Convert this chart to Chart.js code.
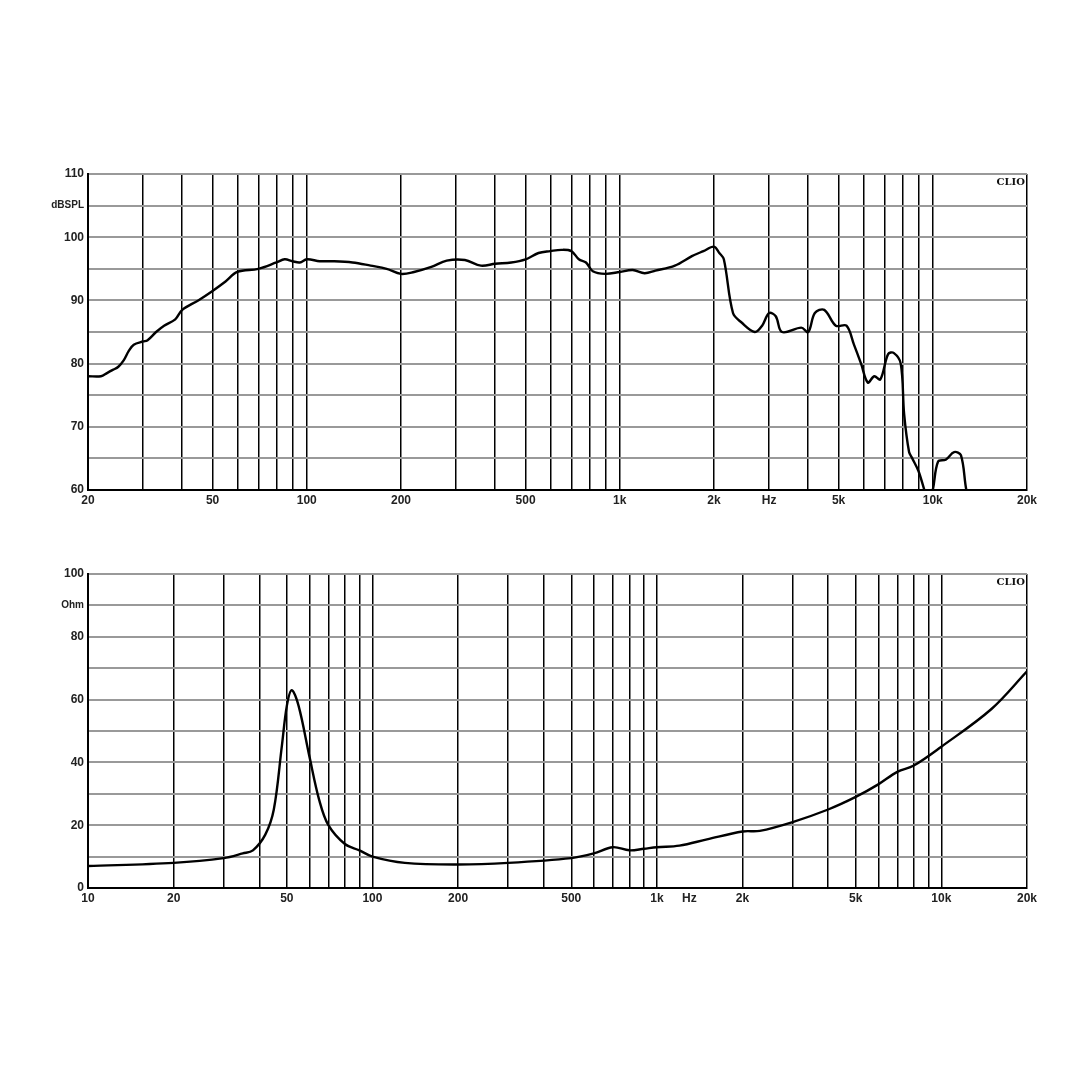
<!DOCTYPE html>
<html>
<head>
<script src="https://cdn.jsdelivr.net/npm/chart.js@4"></script>
<style>
body { margin: 0; background: #fff; width: 1080px; height: 1080px; position: relative; overflow: hidden; }
.box { position: absolute; left: 0; width: 1080px; }
</style>
</head>
<body>
<div class="box" style="top:150px;height:370px"><canvas id="spl"></canvas></div>
<div class="box" style="top:550px;height:368px"><canvas id="imp"></canvas></div>
<script>
// SPL response
const splFreq = [20,22,23,24,25,26,27,28,30,31,33,35,38,40,45,50,55,60,70,80,85,90,95,100,110,120,140,160,180,200,220,250,280,320,360,400,450,500,550,600,650,700,740,780,820,900,1000,1100,1200,1300,1500,1700,1850,2000,2080,2150,2300,2450,2700,2850,3000,3150,3300,3800,4000,4200,4500,4900,5300,5600,5900,6200,6500,6800,7200,7500,7900,8100,8400,8600,9000,9400,9700,10000,10400,11000,11700,12300,12800,13300];
const splDb   = [78,78,78.5,79,79.5,80.5,82,83,83.5,83.7,85,86,87,88.5,90,91.5,93,94.5,95,96,96.5,96.2,96,96.5,96.2,96.2,96,95.5,95,94.2,94.5,95.3,96.3,96.4,95.5,95.8,96,96.5,97.5,97.8,98,97.8,96.5,96,94.6,94.2,94.5,94.8,94.3,94.7,95.5,97,97.8,98.5,97.5,96.5,88,86.5,85,86,88,87.5,85,85.7,85,88,88.5,86,86,83,80,77,78,77.5,81.5,81.7,80,72,66,65,63,60,58,60,64.5,64.8,66,65.5,60,57];
// Impedance
const impFreq = [10,20,30,35,38,42,45,48,50,52,55,60,65,70,80,90,100,130,200,300,500,600,700,800,900,1000,1200,1500,2000,2300,3000,4000,5000,6000,7000,8000,10000,15000,20000];
const impOhm  = [7,8,9.5,11,12,17,25,45,58,63,58,42,28,20,14,12,10,8,7.5,8,9.5,11,13,12,12.5,13,13.5,15.5,18,18.2,21,25,29,33,37,39,45,57,69];

const splGrid = [20,30,40,50,60,70,80,90,100,200,300,400,500,600,700,800,900,1000,2000,3000,4000,5000,6000,7000,8000,9000,10000,20000];
const splLabels = {20:'20',50:'50',100:'100',200:'200',500:'500',1000:'1k',2000:'2k',3000:'Hz',5000:'5k',10000:'10k',20000:'20k'};
const impGrid = [10,20,30,40,50,60,70,80,90,100,200,300,400,500,600,700,800,900,1000,1300,2000,3000,4000,5000,6000,7000,8000,9000,10000,20000];
const impLabels = {10:'10',20:'20',50:'50',100:'100',200:'200',500:'500',1000:'1k',1300:'Hz',2000:'2k',5000:'5k',10000:'10k',20000:'20k'};
const splY = {60:'60',70:'70',80:'80',90:'90',100:'100',105:'dBSPL',110:'110'};
const impY = {0:'0',20:'20',40:'40',60:'60',80:'80',90:'Ohm',100:'100'};

const font = { family: 'Liberation Sans', weight: 'bold', size: 12 };
const smallFont = { family: 'Liberation Sans', weight: 'bold', size: 10 };

const clio = {
  id: 'clio',
  afterDraw(c) {
    const a = c.chartArea, ctx = c.ctx;
    ctx.save();
    ctx.font = 'bold 10px "DejaVu Serif"';
    ctx.fillStyle = '#111';
    ctx.textAlign = 'right';
    ctx.textBaseline = 'top';
    ctx.fillText('CLIO', a.right - 2, a.top + 3);
    ctx.restore();
  }
};

function makeChart(id, xs, ys, grid, xl, ymin, ymax, ystep, yl, hiddenTick) {
  return new Chart(document.getElementById(id), {
    type: 'line',
    data: { datasets: [{ data: xs.map((x, i) => ({ x, y: ys[i] })), borderColor: '#000', borderWidth: 2.4, pointRadius: 0, tension: 0.35 }] },
    options: {
      animation: false, responsive: true, maintainAspectRatio: false,
      layout: { padding: { top: 24, right: 53 } },
      plugins: { legend: { display: false }, tooltip: { enabled: false } },
      scales: {
        x: {
          type: 'logarithmic', min: grid[0], max: grid[grid.length - 1],
          afterBuildTicks: s => { s.ticks = grid.map(v => ({ value: v })); },
          afterFit: s => { s.height = 30; },
          ticks: { autoSkip: false, maxRotation: 0, color: '#222', font, padding: 3, callback: v => xl[v] || '' },
          grid: { color: c => (c.tick && c.tick.value === hiddenTick) ? 'rgba(0,0,0,0)' : '#000', lineWidth: 1.5, drawTicks: false },
          border: { color: '#000', width: 2 }
        },
        y: {
          min: ymin, max: ymax,
          afterBuildTicks: s => { const t = []; for (let v = ymin; v <= ymax; v += ystep) t.push({ value: v }); s.ticks = t; },
          afterFit: s => { s.width = 88; },
          ticks: { autoSkip: false, color: '#222', font: c => (c.tick && (c.tick.value === 105 || c.tick.value === 90 && id === 'imp')) ? smallFont : font, padding: 4, callback: v => yl[v] || '' },
          grid: { color: '#999', lineWidth: 2, drawTicks: false },
          border: { color: '#000', width: 2 }
        }
      }
    },
    plugins: [clio]
  });
}

makeChart('spl', splFreq, splDb, splGrid, splLabels, 60, 110, 5, splY, null);
makeChart('imp', impFreq, impOhm, impGrid, impLabels, 0, 100, 10, impY, 1300);
</script>
</body>
</html>
